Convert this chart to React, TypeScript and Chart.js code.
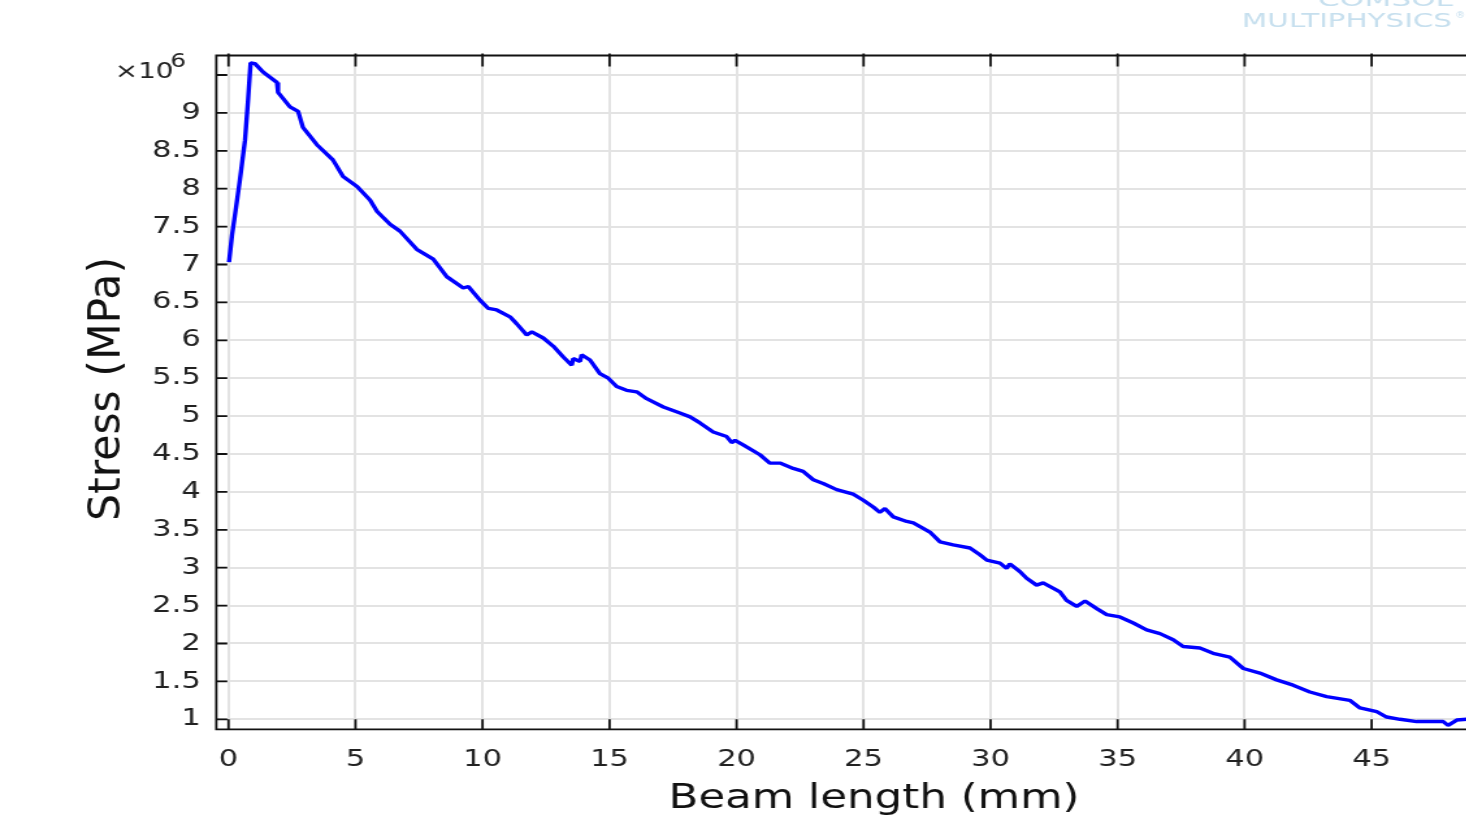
import { useEffect, useRef } from 'react';
import { Chart, registerables } from 'chart.js';

Chart.register(...registerables);

// ---- data (stress in units of 10^6, as on the axis) ----
const beamLength = [
  0.02, 0.14, 0.30, 0.45, 0.65, 0.77, 0.87, 1.04, 1.36, 1.91,
  1.95, 2.42, 2.74, 2.93, 3.48, 4.11, 4.51, 5.06, 5.57, 5.85,
  6.36, 6.75, 7.41, 8.06, 8.59, 9.24, 9.44, 9.90, 10.23, 10.56,
  11.08, 11.34, 11.74, 11.94, 12.39, 12.79, 13.18, 13.51, 13.57, 13.84,
  13.90, 14.23, 14.62, 14.95, 15.28, 15.67, 16.07, 16.46, 17.12, 17.77,
  18.17, 18.56, 19.08, 19.61, 19.81, 19.94, 20.26, 20.92, 21.31, 21.71,
  22.23, 22.62, 23.02, 23.41, 23.94, 24.59, 24.99, 25.38, 25.64, 25.84,
  26.17, 26.70, 26.96, 27.61, 28.01, 28.53, 29.19, 29.58, 29.85, 30.37,
  30.63, 30.76, 31.15, 31.42, 31.81, 32.07, 32.73, 32.99, 33.39, 33.72,
  34.18, 34.57, 35.09, 35.62, 36.14, 36.67, 37.19, 37.58, 38.24, 38.76,
  39.42, 39.95, 40.60, 41.26, 41.91, 42.57, 43.23, 44.14, 44.54, 45.20,
  45.59, 46.12, 46.77, 47.82, 48.01, 48.35, 48.74, 49.20,
];
const stress = [
  7.03, 7.39, 7.76, 8.12, 8.64, 9.17, 9.66, 9.65, 9.54, 9.40,
  9.27, 9.08, 9.02, 8.81, 8.58, 8.38, 8.16, 8.03, 7.85, 7.70,
  7.53, 7.44, 7.20, 7.07, 6.84, 6.69, 6.71, 6.53, 6.42, 6.40,
  6.31, 6.22, 6.07, 6.11, 6.03, 5.92, 5.78, 5.67, 5.76, 5.72,
  5.81, 5.74, 5.56, 5.50, 5.39, 5.34, 5.32, 5.23, 5.12, 5.04,
  4.99, 4.91, 4.79, 4.73, 4.65, 4.68, 4.62, 4.49, 4.38, 4.38,
  4.31, 4.27, 4.16, 4.11, 4.03, 3.97, 3.89, 3.80, 3.73, 3.78,
  3.67, 3.61, 3.59, 3.47, 3.34, 3.30, 3.26, 3.17, 3.10, 3.06,
  2.99, 3.05, 2.95, 2.86, 2.77, 2.80, 2.68, 2.57, 2.49, 2.56,
  2.46, 2.38, 2.35, 2.27, 2.18, 2.13, 2.05, 1.96, 1.94, 1.87,
  1.82, 1.67, 1.61, 1.52, 1.45, 1.36, 1.30, 1.25, 1.15, 1.10,
  1.03, 1.00, 0.97, 0.97, 0.92, 0.99, 1.00, 1.00,
];
const xTicks = [0, 5, 10, 15, 20, 25, 30, 35, 40, 45];
const yTicks = [1, 1.5, 2, 2.5, 3, 3.5, 4, 4.5, 5, 5.5, 6, 6.5, 7, 7.5, 8, 8.5, 9, 9.5];
const hiddenYTickLabels = [9.5];
const xTitle = 'Beam length (mm)';
const yTitle = 'Stress (MPa)';
const multiplierText = '×10';
const multiplierExponent = '6';
const logoTop = 'COMSOL';
const logoBottom = 'MULTIPHYSICS';

// ---- layout (canvas is rendered narrow and stretched horizontally like the reference) ----
const K = 1.3;
const CW = 1180;
const CH = 819;
const FONT = "'DejaVu Sans', 'Noto Sans', sans-serif";

const decorPlugin = {
  id: 'decor',
  afterDatasetsDraw(chart: any) {
    const { ctx, chartArea, scales } = chart;
    const { left, right, top, bottom } = chartArea;
    const xs = scales.x;
    const ys = scales.y;
    ctx.save();
    ctx.strokeStyle = '#111';
    ctx.lineWidth = 1.8;
    ctx.beginPath();
    ctx.moveTo(left, top);
    ctx.lineTo(right, top);
    ctx.lineTo(right, bottom);
    ctx.lineTo(left, bottom);
    ctx.closePath();
    ctx.stroke();
    ctx.beginPath();
    for (const t of xs.ticks) {
      const px = xs.getPixelForValue(t.value);
      if (px < left - 1 || px > right + 1) continue;
      ctx.moveTo(px, bottom);
      ctx.lineTo(px, bottom - 10);
      ctx.moveTo(px, top - 2);
      ctx.lineTo(px, top + 11);
    }
    for (const t of ys.ticks) {
      const py = ys.getPixelForValue(t.value);
      ctx.moveTo(left, py);
      ctx.lineTo(left + 11 / K, py);
    }
    ctx.stroke();
    ctx.restore();
  },
  afterDraw(chart: any) {
    const { ctx } = chart;
    ctx.save();
    // y title (rotated)
    ctx.fillStyle = '#111';
    ctx.font = `33.5px ${FONT}`;
    ctx.textAlign = 'center';
    ctx.textBaseline = 'alphabetic';
    ctx.translate(120 / K, 389);
    ctx.rotate(-Math.PI / 2);
    ctx.scale(1.27, 1);
    ctx.fillText(yTitle, 0, 0);
    ctx.restore();

    // multiplier
    ctx.save();
    ctx.fillStyle = '#222';
    ctx.font = `21.5px ${FONT}`;
    ctx.textAlign = 'right';
    ctx.textBaseline = 'alphabetic';
    ctx.fillText(multiplierText, 133.5, 78.3);
    ctx.font = `19px ${FONT}`;
    ctx.textAlign = 'left';
    ctx.fillText(multiplierExponent, 131, 66.7);
    ctx.restore();

    // logo
    ctx.save();
    ctx.fillStyle = '#c6dfee';
    ctx.font = `20px ${FONT}`;
    ctx.textAlign = 'right';
    ctx.textBaseline = 'alphabetic';
    ctx.save();
    ctx.translate(1452 / K, 27);
    ctx.scale(1.13, 1);
    ctx.fillText(logoBottom, 0, 0);
    ctx.restore();
    ctx.save();
    ctx.translate(1453 / K, 5.5);
    ctx.scale(1.2, 1);
    ctx.fillText(logoTop, 0, 0);
    ctx.restore();
    ctx.font = `8px ${FONT}`;
    ctx.textAlign = 'left';
    ctx.fillText('®', 1455 / K, 18);
    ctx.restore();
  },
};

export default function App() {
  const canvasRef = useRef<HTMLCanvasElement | null>(null);

  useEffect(() => {
    const canvas = canvasRef.current;
    if (!canvas) return;
    const points = beamLength.map((x, i) => ({ x, y: stress[i] }));
    const chart = new Chart(canvas, {
      type: 'line',
      data: {
        datasets: [
          {
            data: points,
            borderColor: '#0000ff',
            borderWidth: 3.4,
            pointRadius: 0,
            tension: 0,
            fill: false,
            borderJoinStyle: 'bevel',
          },
        ],
      },
      options: {
        animation: false,
        responsive: false,
        events: [],
        layout: { padding: { left: 0, right: 1.8, top: 55.5, bottom: 0 } },
        plugins: { legend: { display: false }, tooltip: { enabled: false } },
        scales: {
          x: {
            type: 'linear',
            min: -0.48,
            max: 51.3,
            afterBuildTicks: (s: any) => {
              s.ticks = xTicks.map((v) => ({ value: v }));
            },
            afterFit: (s: any) => {
              s.height = 89.7;
            },
            grid: { color: '#e3e3e3', lineWidth: 2, drawTicks: false },
            border: { display: false },
            ticks: {
              padding: 16,
              color: '#222',
              font: { family: FONT, size: 23.5 },
              maxRotation: 0,
              autoSkip: false,
              callback: (v: any) => String(v),
            },
            title: {
              display: true,
              text: xTitle,
              color: '#111',
              font: { family: FONT, size: 33.5, lineHeight: 1.05 },
              padding: { top: 0, bottom: 2 },
            },
          },
          y: {
            type: 'linear',
            min: 0.868,
            max: 9.757,
            afterBuildTicks: (s: any) => {
              s.ticks = yTicks.map((v) => ({ value: v }));
            },
            afterFit: (s: any) => {
              s.width = 216.3 / K;
            },
            grid: { color: '#e3e3e3', lineWidth: 2, drawTicks: false },
            border: { display: false },
            ticks: {
              padding: 12,
              color: '#222',
              font: { family: FONT, size: 23.5 },
              autoSkip: false,
              callback: (v: any) => (hiddenYTickLabels.includes(v) ? '' : String(v)),
            },
          },
        },
      },
      plugins: [decorPlugin],
    });
    return () => chart.destroy();
  }, []);

  return (
    <div
      style={{
        position: 'absolute',
        left: 0,
        top: 0,
        width: 1466,
        height: 819,
        overflow: 'hidden',
        background: '#fff',
      }}
    >
      <canvas
        ref={canvasRef}
        width={CW}
        height={CH}
        style={{ width: `${CW * K}px`, height: `${CH}px`, display: 'block' }}
      />
    </div>
  );
}
